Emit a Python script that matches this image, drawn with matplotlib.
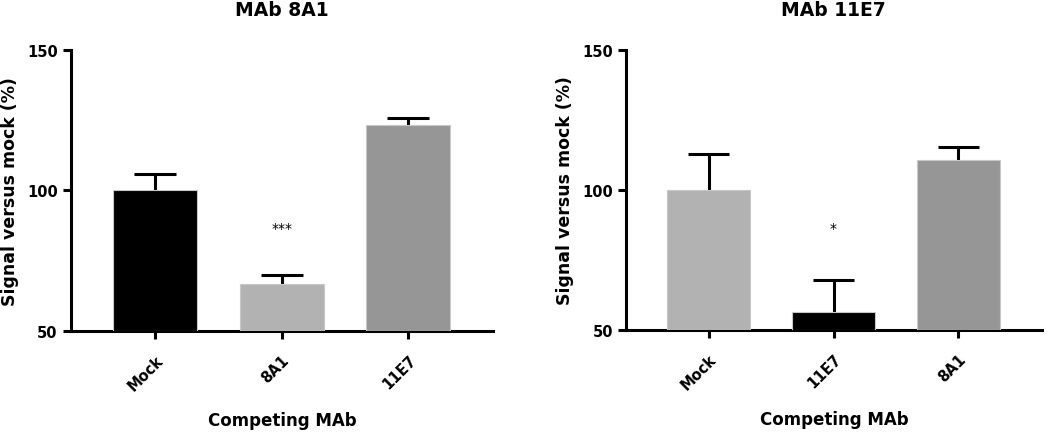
import numpy as np
import matplotlib
matplotlib.use("Agg")
import matplotlib.pyplot as plt

plt.rcParams['font.family'] = ['DejaVu Sans']
plt.rcParams['font.weight'] = 'bold'

# left panel: MAb 8A1
left_title = "MAb 8A1"
left_labels = ["Mock", "8A1", "11E7"]
left_values = [100.0, 66.8, 123.3]
left_errors = [6.0, 3.0, 2.6]
left_colors = ["#000000", "#b2b2b2", "#969696"]
left_stars = {1: "***"}

# right panel: MAb 11E7
right_title = "MAb 11E7"
right_labels = ["Mock", "11E7", "8A1"]
right_values = [100.0, 56.4, 110.6]
right_errors = [12.7, 11.3, 4.8]
right_colors = ["#b2b2b2", "#000000", "#969696"]
right_stars = {1: "*"}

star_level = 86.5
LW = 2.2
BAR_W = 0.665
CAP_W = 0.33

fig = plt.figure(figsize=(10.5, 4.35), dpi=100)
ax1 = fig.add_axes([0.0676, 0.2368, 0.4019, 0.6460])
ax2 = fig.add_axes([0.5962, 0.2391, 0.3959, 0.6437])


def draw_panel(ax, title, labels, values, errors, colors, stars):
    x = np.arange(len(labels))
    ax.bar(x, [v - 50 for v in values], bottom=50, width=BAR_W,
           color=colors, edgecolor="#c8c8c8", linewidth=0.8, zorder=3)
    # upper error bars only (line + cap)
    tops = [v + e for v, e in zip(values, errors)]
    ax.vlines(x, values, tops, color="black", linewidth=LW, zorder=2)
    ax.hlines(tops, x - CAP_W / 2, x + CAP_W / 2, color="black", linewidth=LW, zorder=2)
    for i, s in stars.items():
        ax.text(x[i], star_level, s, ha="center", va="center",
                fontsize=10, fontweight="normal")
    ax.set_xlim(-0.665, len(labels) - 1 + 0.67)
    ax.set_ylim(50, 150)
    ax.set_yticks([50, 100, 150])
    ax.set_xticks(x)
    ax.set_xticklabels(labels, rotation=45, ha="right", rotation_mode="anchor")
    for sp in ["top", "right"]:
        ax.spines[sp].set_visible(False)
    for sp in ["left", "bottom"]:
        ax.spines[sp].set_linewidth(LW)
    ax.tick_params(width=LW, length=6, labelsize=10.5)
    ax.tick_params(axis="x", pad=9)
    ax.set_title(title, fontsize=13.5, fontweight="bold", pad=25)
    ax.set_xlabel("Competing MAb", fontsize=12, fontweight="bold", labelpad=13)
    ax.set_ylabel("Signal versus mock (%)", fontsize=12.5, fontweight="bold", labelpad=6)


draw_panel(ax1, left_title, left_labels, left_values, left_errors, left_colors, left_stars)
draw_panel(ax2, right_title, right_labels, right_values, right_errors, right_colors, right_stars)

fig.savefig("out.png", dpi=100)
